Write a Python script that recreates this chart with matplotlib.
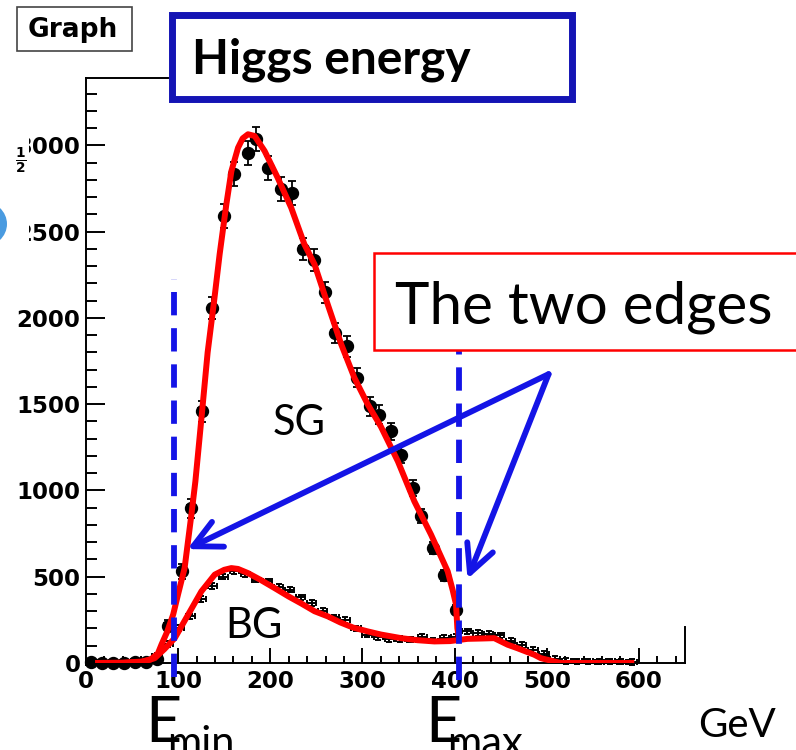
"""
Higgs energy spectrum: signal (SG) and background (BG) with the two kinematic edges
"""

import matplotlib
matplotlib.use("Agg")
import matplotlib.pyplot as plt
from matplotlib.patches import Rectangle, Ellipse
from matplotlib.ticker import MultipleLocator


################################################################################
# signal graph points (GeV, entries) and their errors
sg_x = [5, 17, 29, 41, 53, 65, 77, 89, 104, 114, 126, 137, 150, 161, 176, 185,
        198, 212, 224, 235, 247, 259, 270, 283, 294, 308, 318, 331, 342, 355,
        364, 377, 389, 402]
sg_y = [3, 0, 2, 0, 4, 8, 25, 217, 531, 898, 1459, 2058, 2590, 2832, 2957, 3037,
        2870, 2746, 2725, 2398, 2335, 2149, 1913, 1836, 1652, 1488, 1440, 1343,
        1208, 1014, 850, 666, 508, 309]
sg_err = [10, 10, 10, 10, 10, 10, 15, 30, 45, 55, 60, 65, 70, 70, 70, 70, 70, 70,
          70, 65, 65, 60, 60, 60, 55, 55, 55, 50, 50, 45, 40, 35, 30, 25]

# signal fit curve
sg_fit_x = [10, 40, 60, 70, 78, 82, 88, 94.6, 100, 107, 114.4, 118.7, 126, 132,
            139, 145, 152.3, 157.8, 165, 170, 175.8, 183, 193.8, 208, 222.7, 237,
            248, 262.5, 277, 291.3, 305.8, 320, 338.4, 356.3, 374.4, 392.5, 398,
            401.5, 403, 405]
sg_fit_y = [0, 2, 8, 20, 55, 108, 180, 281, 400, 550, 861, 1053, 1459, 1800, 2097,
            2368, 2658, 2851, 2986, 3040, 3064, 3054, 2967, 2812, 2638, 2426, 2310,
            2075, 1846, 1652, 1498, 1370, 1169, 937, 744, 531, 420, 340, 200, 140]

# background graph points
bg_x = [5, 17, 29, 41, 53, 65, 77, 89, 101, 113, 125, 137, 149, 161, 173, 185,
        197, 209, 221, 233, 245, 257, 269, 281, 293, 305, 317, 329, 341, 353, 365,
        377, 389, 401, 413, 425, 437, 449, 461, 473, 485, 497, 509, 521, 533, 545,
        557, 569, 581, 593]
bg_y = [0, 0, 0, 0, 5, 15, 40, 110, 202, 270, 370, 445, 500, 531, 515, 483, 473,
        440, 425, 380, 347, 300, 265, 250, 200, 165, 150, 140, 140, 135, 150, 130,
        144, 150, 183, 175, 170, 160, 130, 105, 75, 55, 25, 12, 10, 10, 8, 10, 8, 5]

# background fit curve
bg_fit_x = [10, 40, 60, 74.6, 85, 96.3, 110.8, 125.2, 139.7, 150, 157.7, 165,
            175.8, 190, 204.7, 220, 233.6, 248, 262.5, 276, 290, 305.8, 320, 342,
            360, 378, 395, 414, 430, 443, 457.5, 468, 486.4, 493.6, 508, 515, 595]
bg_fit_y = [0, 0, 5, 28, 80, 144, 280, 415, 512, 540, 550, 545, 521, 480, 434, 385,
            345, 300, 270, 235, 205, 183, 165, 144, 132, 125, 127, 140, 142, 144,
            106, 86, 48, 28, 9, 0, 0]

# the two edges (GeV)
e_min = 95
e_max = 405

x_ticks = [0, 100, 200, 300, 400, 500, 600]
y_ticks = [0, 500, 1000, 1500, 2000, 2500, 3000]

W, H = 796, 750
BLUE = "#1414e6"
DARK_BLUE = "#1414b4"


def fx(px):
    return px / W


def fy(py):
    return 1 - py / H


# ROOT-ish axis labels: heavy sans
plt.rcParams["font.family"] = "DejaVu Sans"
plt.rcParams["font.weight"] = "bold"
plt.rcParams["xtick.labelsize"] = 16.5
plt.rcParams["ytick.labelsize"] = 16.5

################################################################################
fig = plt.figure(figsize=(W / 100, H / 100), dpi=100)
ax = fig.add_axes([fx(86), fy(663), (685 - 86) / W, (663 - 78) / H])

ax.set_xlim(0, 650)
ax.set_ylim(0, 3390)

# background: error bars + red fit
ax.errorbar(bg_x, bg_y, xerr=5, yerr=16, fmt="none", ecolor="black",
            elinewidth=1.4, capsize=2, capthick=1.4, zorder=2, clip_on=False)
ax.plot(bg_fit_x, bg_fit_y, color="red", linewidth=4.3, zorder=4,
        solid_capstyle="butt")

# signal: black dots + red fit
ax.errorbar(sg_x, sg_y, xerr=4, yerr=sg_err, fmt="o", color="black",
            markersize=8.6, elinewidth=1.3, capsize=3, capthick=1.3,
            zorder=3, clip_on=False)
ax.plot(sg_fit_x, sg_fit_y, color="red", linewidth=4.3, zorder=4,
        solid_capstyle="butt")

# edges as dashed blue lines
ax.plot([e_min, e_min], [-81, 2228], color=BLUE, linewidth=4.2,
        dashes=(4.0, 2.2), clip_on=False, zorder=6)
ax.plot([e_max, e_max], [-98, 1811], color=BLUE, linewidth=4.2,
        dashes=(4.0, 2.2), clip_on=False, zorder=6)

# arrows from the label to each edge
arrow_from = (502, 1674)
for tip in [(110, 660), (414, 487)]:
    ax.annotate("", xy=tip, xytext=arrow_from,
                arrowprops=dict(arrowstyle="->,head_length=0.9,head_width=0.45",
                                color=BLUE, linewidth=4.2, mutation_scale=22,
                                shrinkA=0, shrinkB=0),
                zorder=7, annotation_clip=False)

# ROOT-style frame: only bits of top/right are visible
for side in ["top", "right"]:
    ax.spines[side].set_visible(False)
for side in ["left", "bottom"]:
    ax.spines[side].set_linewidth(1.4)
ax.plot([0, (168 - 86) / 598], [1, 1], transform=ax.transAxes, color="black",
        linewidth=1.4, clip_on=False)
ax.plot([1, 1], [0, 36 / 585], transform=ax.transAxes, color="black",
        linewidth=1.4, clip_on=False)

ax.set_xticks(x_ticks)
ax.set_yticks(y_ticks)
ax.xaxis.set_minor_locator(MultipleLocator(20))
ax.yaxis.set_minor_locator(MultipleLocator(100))
ax.tick_params(axis="y", which="major", direction="in", length=13.5, width=1.4,
               pad=4, labelsize=16.5)
ax.tick_params(axis="y", which="minor", direction="in", length=8, width=1.4)
ax.tick_params(axis="x", which="major", direction="in", length=10.8, width=1.4,
               pad=5, labelsize=16.5)
ax.tick_params(axis="x", which="minor", direction="in", length=5, width=1.4)

# graph title box
fig.text(fx(28), fy(37), "Graph", fontsize=19, fontweight="bold",
         family="DejaVu Sans", ha="left", va="baseline")
fig.add_artist(Rectangle((fx(17), fy(51)), fx(132 - 17), (51 - 7) / H,
                         transform=fig.transFigure, facecolor="white",
                         edgecolor="#444444", linewidth=1.2, zorder=1))

# heading box
fig.add_artist(Rectangle((fx(171.5), fy(99)), fx(571.5 - 171.5), (99 - 15.5) / H,
                         transform=fig.transFigure, facecolor="white",
                         edgecolor=DARK_BLUE, linewidth=5, zorder=8))
fig.text(fx(192), fy(74), "Higgs energy", fontsize=34.5, fontweight="bold",
         family="Lato", ha="left", va="baseline", zorder=9)

# label box
fig.add_artist(Rectangle((fx(374), fy(350)), fx(800 - 374), (350 - 253) / H,
                         transform=fig.transFigure, facecolor="white",
                         edgecolor="red", linewidth=1.8, zorder=8))
fig.text(fx(395), fy(323), "The two edges", fontsize=42, family="Lato",
         fontweight="normal", ha="left", va="baseline", zorder=9)

fig.text(fx(273), fy(435), "SG", fontsize=30, family="Lato", fontweight="normal",
         ha="left", va="baseline")
fig.text(fx(225), fy(638), "BG", fontsize=30, family="Lato", fontweight="normal",
         ha="left", va="baseline")

# edge names under the axis
for x0, sub in [(145, "min"), (425, "max")]:
    fig.text(fx(x0), fy(742), "E", fontsize=45, family="Lato",
             fontweight="normal", ha="left", va="baseline")
    fig.text(fx(x0 + 22), fy(756), sub, fontsize=30, family="Lato",
             fontweight="normal", ha="left", va="baseline")
fig.text(fx(698), fy(737), "GeV", fontsize=29, family="Lato",
         fontweight="normal", ha="left", va="baseline")

# stray bits on the left edge
fig.add_artist(Rectangle((0, fy(250)), fx(29), (250 - 125) / H,
                         transform=fig.transFigure, facecolor="white",
                         edgecolor="none", zorder=10))
fig.text(fx(21), fy(161), r"$\frac{1}{2}$", fontsize=14, fontweight="normal",
         ha="center", va="center", zorder=11)
fig.add_artist(Ellipse((fx(-18), fy(224)), fx(50), 46 / H,
                       transform=fig.transFigure, facecolor="#4a9be0",
                       edgecolor="none", zorder=11))

fig.savefig("out.png", dpi=100)
